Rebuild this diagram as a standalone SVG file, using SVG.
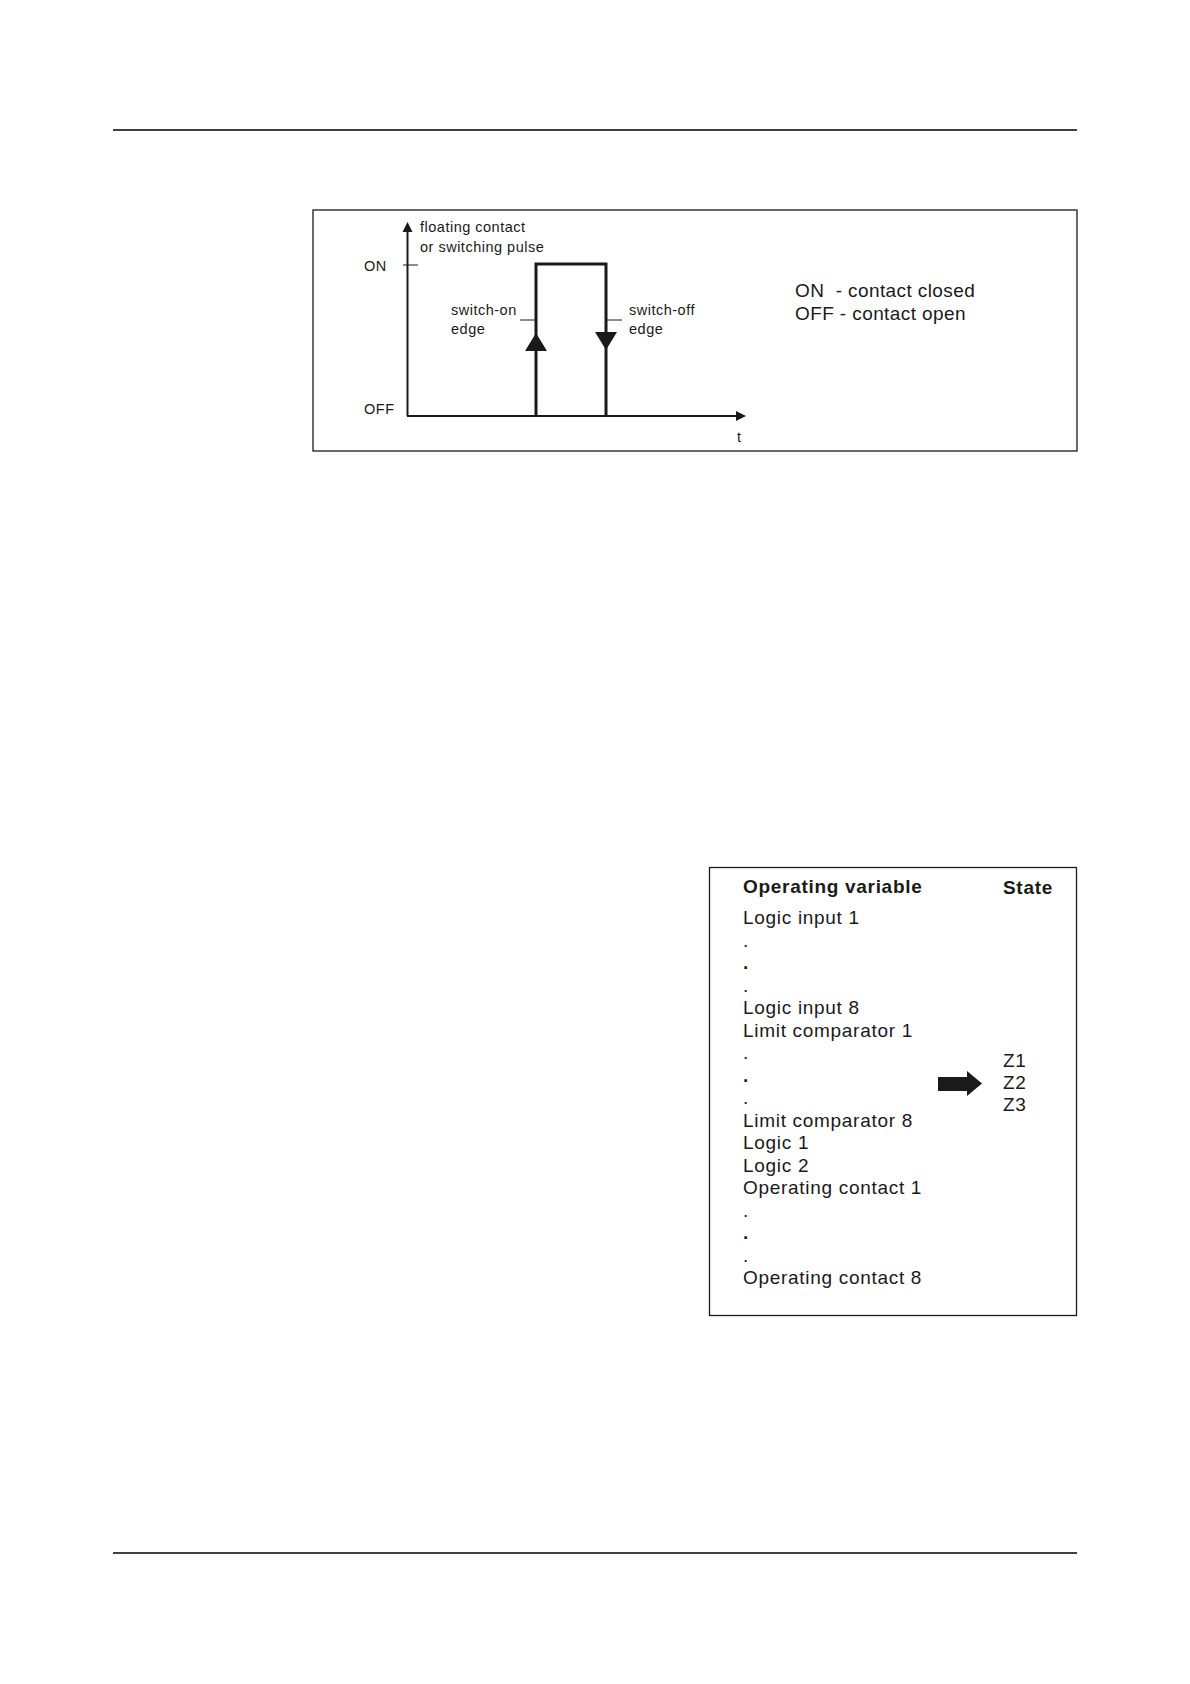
<svg xmlns="http://www.w3.org/2000/svg" width="1190" height="1684" viewBox="0 0 1190 1684">
<style>
  .t { font-family: "Liberation Sans", Arial, sans-serif; fill: #1a1a1a; }
  .s { font-size: 14.5px; letter-spacing: 0.5px; }
  .m { font-size: 19px; letter-spacing: 0.7px; }
  .b { font-weight: bold; }
  .frame { fill: none; stroke: #1a1a1a; stroke-width: 1.3; }
  .rule { stroke: #000; stroke-width: 1.5; }
  .pre { white-space: pre; }
</style>
<rect width="1190" height="1684" fill="#fff"/>
<line class="rule" x1="113" y1="130" x2="1077" y2="130"/>
<line class="rule" x1="113" y1="1553" x2="1077" y2="1553"/>

<g id="chart">
  <rect class="frame" x="313" y="210" width="764" height="241"/>
  <g id="connectors" stroke="#1a1a1a" fill="none">
    <line x1="407.5" y1="230" x2="407.5" y2="416" stroke-width="2"/>
    <line x1="407" y1="416" x2="738" y2="416" stroke-width="2"/>
    <line x1="403" y1="265" x2="418" y2="265" stroke-width="1"/>
    <polyline points="536,416 536,264 606,264 606,416" stroke-width="3"/>
    <line x1="520" y1="320" x2="536" y2="320" stroke-width="1"/>
    <line x1="606" y1="320" x2="622" y2="320" stroke-width="1"/>
  </g>
  <polygon points="407.5,222 402.5,232 412.5,232" fill="#1a1a1a"/>
  <polygon points="746,416 736,411 736,421" fill="#1a1a1a"/>
  <polygon points="536,333 525,351 547,351" fill="#1a1a1a"/>
  <polygon points="595,332 617,332 606,350" fill="#1a1a1a"/>
  <text class="t s" x="420" y="232">floating contact</text>
  <text class="t s" x="420" y="252">or switching pulse</text>
  <text class="t s" x="364" y="271">ON</text>
  <text class="t s" x="364" y="414">OFF</text>
  <text class="t s" x="451" y="315">switch-on</text>
  <text class="t s" x="451" y="334">edge</text>
  <text class="t s" x="629" y="315">switch-off</text>
  <text class="t s" x="629" y="334">edge</text>
  <text class="t s" x="737" y="442">t</text>
  <text class="t m pre" x="795" y="297" style="letter-spacing:0.4px">ON  - contact closed</text>
  <text class="t m pre" x="795" y="320" style="letter-spacing:0.4px">OFF - contact open</text>
</g>

<g id="table">
  <rect class="frame" x="709.5" y="867.5" width="367" height="448"/>
  <text class="t m b" x="743" y="893">Operating variable</text>
  <text class="t m b" x="1003" y="894">State</text>
  <text class="t m" x="743" y="924.3">Logic input 1</text>
  <text class="t m" x="743" y="946.8">.</text>
  <text class="t m b" x="743" y="969.3">.</text>
  <text class="t m" x="743" y="991.8">.</text>
  <text class="t m" x="743" y="1014.3">Logic input 8</text>
  <text class="t m" x="743" y="1036.8">Limit comparator 1</text>
  <text class="t m" x="743" y="1059.3">.</text>
  <text class="t m b" x="743" y="1081.8">.</text>
  <text class="t m" x="743" y="1104.3">.</text>
  <text class="t m" x="743" y="1126.8">Limit comparator 8</text>
  <text class="t m" x="743" y="1149.3">Logic 1</text>
  <text class="t m" x="743" y="1171.8">Logic 2</text>
  <text class="t m" x="743" y="1194.3">Operating contact 1</text>
  <text class="t m" x="743" y="1216.8">.</text>
  <text class="t m b" x="743" y="1239.3">.</text>
  <text class="t m" x="743" y="1261.8">.</text>
  <text class="t m" x="743" y="1284.3">Operating contact 8</text>
  <text class="t m" x="1003" y="1067">Z1</text>
  <text class="t m" x="1003" y="1089">Z2</text>
  <text class="t m" x="1003" y="1111">Z3</text>
  <polygon points="938,1077 967,1077 967,1071 982,1083.5 967,1096 967,1091 938,1091" fill="#1a1a1a"/>
</g>
</svg>
